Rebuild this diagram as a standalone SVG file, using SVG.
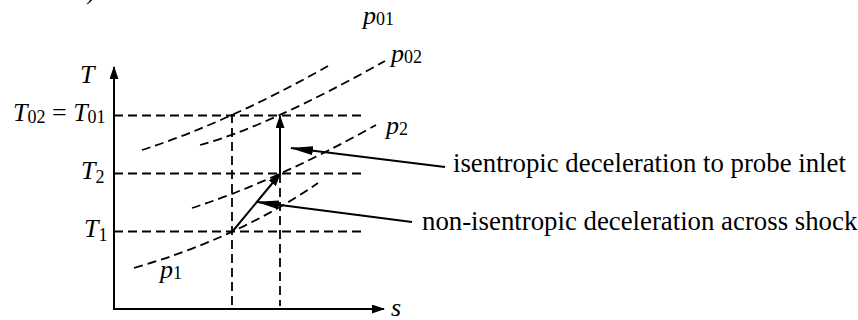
<svg xmlns="http://www.w3.org/2000/svg" width="858" height="320" viewBox="0 0 858 320">
<style>
  text { font-family: "Liberation Serif", "Times New Roman", serif; font-size: 26px; fill: #000; }
  .i { font-style: italic; }
  .sub { font-size: 18px; font-style: normal; }
  .note { font-size: 26.8px; }
  .axis { stroke: #000; stroke-width: 2; fill: none; }
  .dash { stroke: #000; stroke-width: 1.8; fill: none; stroke-dasharray: 9 5; }
  .solid { stroke: #000; stroke-width: 2; fill: none; }
</style>
<defs>
  <marker id="ah" markerUnits="userSpaceOnUse" markerWidth="13" markerHeight="9" refX="12" refY="4.5" orient="auto">
    <path d="M0,0 L13,4.5 L0,9 z" fill="#000"/>
  </marker>
  <marker id="al" markerUnits="userSpaceOnUse" markerWidth="23" markerHeight="9" refX="22" refY="4.5" orient="auto">
    <path d="M0,0 L23,4.5 L0,9 z" fill="#000"/>
  </marker>
</defs>

<text x="86" y="-1">)</text>

<g id="axes">
  <line class="axis" x1="114" y1="309" x2="114" y2="67" marker-end="url(#ah)"/>
  <line class="axis" x1="113" y1="309" x2="384" y2="309" marker-end="url(#ah)"/>
  <text class="i" x="80" y="83">T</text>
  <text class="i" x="391" y="316">s</text>
</g>

<g id="levels">
  <line class="dash" x1="114" y1="115.5" x2="362" y2="115.5"/>
  <line class="dash" x1="114" y1="173.5" x2="362" y2="173.5"/>
  <line class="dash" x1="114" y1="231.5" x2="362" y2="231.5"/>
  <line class="dash" x1="232" y1="114" x2="232" y2="306"/>
  <line class="dash" x1="280" y1="174" x2="280" y2="306"/>
  <text x="13" y="121"><tspan class="i">T</tspan><tspan class="sub" dy="2">02</tspan><tspan dy="-2"> = </tspan><tspan class="i">T</tspan><tspan class="sub" dy="2">01</tspan></text>
  <text x="81" y="179"><tspan class="i">T</tspan><tspan class="sub" dy="4">2</tspan></text>
  <text x="84" y="237"><tspan class="i">T</tspan><tspan class="sub" dy="4">1</tspan></text>
</g>

<g id="isobars">
  <path class="dash" d="M142,150 Q229,122 328,66"/>
  <path class="dash" d="M200,145 Q267,127 385,61"/>
  <path class="dash" d="M192,208 Q276,181 376,125"/>
  <path class="dash" d="M134,268 Q238,238 318,183"/>
  <text x="363" y="24"><tspan class="i">p</tspan><tspan class="sub" dy="1">01</tspan></text>
  <text x="391" y="62"><tspan class="i">p</tspan><tspan class="sub" dy="1">02</tspan></text>
  <text x="386" y="134"><tspan class="i">p</tspan><tspan class="sub" dy="1">2</tspan></text>
  <text x="160" y="278"><tspan class="i">p</tspan><tspan class="sub" dy="1">1</tspan></text>
</g>

<g id="connectors">
  <line class="solid" x1="232" y1="232" x2="280" y2="174" marker-end="url(#ah)"/>
  <line class="solid" x1="280" y1="174" x2="280" y2="116" marker-end="url(#ah)"/>
  <line class="solid" x1="445" y1="167" x2="291" y2="148" marker-end="url(#al)"/>
  <line class="solid" x1="412" y1="222" x2="257" y2="202" marker-end="url(#al)"/>
</g>

<g id="annotations">
  <text class="note" x="453" y="172">isentropic deceleration to probe inlet</text>
  <text class="note" x="422" y="230">non-isentropic deceleration across shock</text>
</g>
</svg>
